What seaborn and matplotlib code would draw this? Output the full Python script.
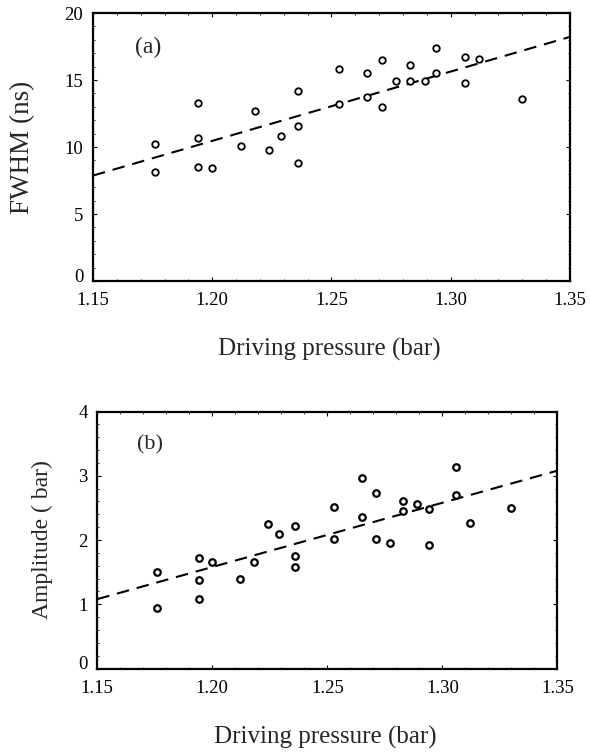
import numpy as np
import pandas as pd
import seaborn as sns
import matplotlib
matplotlib.use("Agg")
import matplotlib.pyplot as plt
from matplotlib.ticker import MultipleLocator
from matplotlib.transforms import ScaledTranslation

sns.set_style("ticks")
plt.rcParams["font.family"] = ["Liberation Serif", "DejaVu Serif"]

# Driving pressure (bar) for each measured bubble pulse
pressure = [1.176, 1.176, 1.194, 1.194, 1.194, 1.200, 1.212, 1.218, 1.224,
            1.229, 1.236, 1.236, 1.236, 1.253, 1.253, 1.265, 1.265, 1.271,
            1.271, 1.277, 1.283, 1.283, 1.289, 1.294, 1.294, 1.306, 1.306,
            1.312, 1.330]

# Pulse width (ns)
fwhm = [10.2, 8.1, 13.3, 10.7, 8.5, 8.4, 10.1, 12.7, 9.8,
        10.8, 14.2, 11.6, 8.8, 15.8, 13.2, 15.5, 13.7, 16.5,
        13.0, 14.9, 16.1, 14.9, 14.9, 17.4, 15.5, 16.7, 14.8,
        16.6, 13.6]

# Pulse amplitude (bar)
amplitude = [1.50, 0.94, 1.72, 1.38, 1.08, 1.66, 1.39, 1.66, 2.25,
             2.09, 2.22, 1.75, 1.58, 2.52, 2.01, 2.96, 2.36, 2.73,
             2.02, 1.96, 2.61, 2.45, 2.56, 2.49, 1.92, 3.13, 2.70,
             2.26, 2.50]

# Linear fits evaluated at the ends of the pressure range
fit_pressure = [1.15, 1.35]
fwhm_fit = [7.87, 18.22]
amplitude_fit = [1.08, 3.08]

x_ticks = [1.15, 1.20, 1.25, 1.30, 1.35]
x_ticklabels = ["1.15", "1.20", "1.25", "1.30", "1.35"]
fwhm_ticks = [0, 5, 10, 15, 20]
amplitude_ticks = [0, 1, 2, 3, 4]

df = pd.DataFrame({"pressure": pressure, "fwhm": fwhm, "amplitude": amplitude})
fit_df = pd.DataFrame({"pressure": fit_pressure, "fwhm": fwhm_fit,
                       "amplitude": amplitude_fit})

fig = plt.figure(figsize=(5.9, 7.53), dpi=100)
ax_a = fig.add_axes([0.1576, 0.6268, 0.8085, 0.3559])
ax_b = fig.add_axes([0.1649, 0.1122, 0.7800, 0.3413])


def draw_panel(ax, ycol, yticks, ylabel, tag, tag_size, ylab_size,
               ylab_x, xlab_y, edge_w):
    sns.scatterplot(data=df, x="pressure", y=ycol, ax=ax, marker="o", s=22,
                    facecolor="white", edgecolor="black", linewidth=edge_w,
                    zorder=3, legend=False)
    sns.lineplot(data=fit_df, x="pressure", y=ycol, ax=ax, color="black",
                 linewidth=1.5, dashes=False, zorder=2)
    ax.lines[-1].set_dashes((6, 3.8))
    ax.set_xlim(1.15, 1.35)
    ax.set_ylim(yticks[0], yticks[-1])
    ax.set_xticks(x_ticks)
    ax.set_xticklabels(x_ticklabels)
    ax.set_yticks(yticks)
    ystep = yticks[1] - yticks[0]
    ax.xaxis.set_minor_locator(MultipleLocator(0.01))
    ax.yaxis.set_minor_locator(MultipleLocator(ystep / 5))
    ax.tick_params(which="both", direction="in", top=True, right=True,
                   labelsize=13.5, colors="black")
    ax.tick_params(axis="y", which="major", pad=7)
    ax.tick_params(axis="x", which="major", pad=8)
    ax.tick_params(which="major", length=3, width=0.8)
    ax.tick_params(which="minor", length=1.5, width=0.6)
    for sp in ax.spines.values():
        sp.set_linewidth(1.6)
        sp.set_color("black")
    ax.set_xlabel("Driving pressure (bar)", fontsize=18, va="center")
    ax.xaxis.set_label_coords(0.495, xlab_y)
    ax.set_ylabel(ylabel, fontsize=ylab_size, va="center")
    ax.yaxis.set_label_coords(ylab_x, 0.5)
    ax.text(0.115, 0.87, tag, transform=ax.transAxes, fontsize=tag_size,
            ha="center", va="center")
    # lift the zero label a little so it sits clear of the first x label
    zero = ax.yaxis.get_major_ticks()[0].label1
    zero.set_transform(zero.get_transform()
                       + ScaledTranslation(0, 4 / 72, fig.dpi_scale_trans))


draw_panel(ax_a, "fwhm", fwhm_ticks, "FWHM (ns)", "(a)", 17, 19.5,
           -0.147, -0.257, 1.3)
draw_panel(ax_b, "amplitude", amplitude_ticks, "Amplitude ( bar)", "(b)", 16,
           17, -0.120, -0.267, 1.6)

fig.savefig("out.png", dpi=100, facecolor="white")
